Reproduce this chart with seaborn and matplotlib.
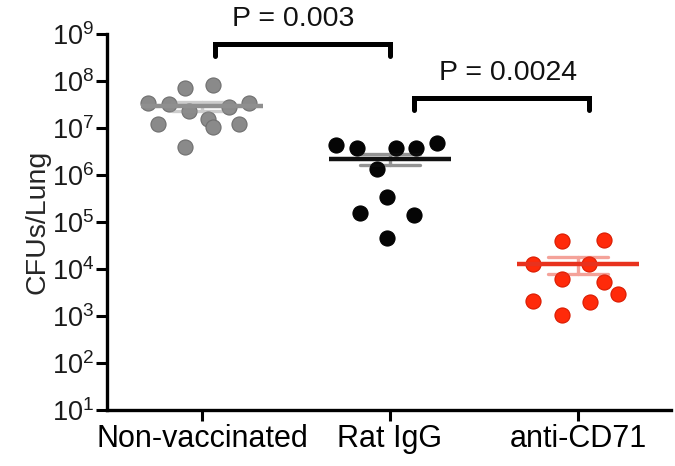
import numpy as np
import pandas as pd
import matplotlib
matplotlib.use("Agg")
import matplotlib.pyplot as plt
import seaborn as sns

# ---------------- data ----------------
groups = ["Non-vaccinated", "Rat IgG", "anti-CD71"]

nonvac_cfu = [3.4e7, 3.2e7, 7.1e7, 8.1e7, 2.3e7, 1.55e7, 1.05e7, 2.8e7, 3.4e7, 1.2e7, 1.2e7, 4.0e6]
ratigg_cfu = [4.4e6, 3.7e6, 1.35e6, 3.7e6, 3.7e6, 4.8e6, 3.4e5, 1.55e5, 1.4e5, 4.6e4]
cd71_cfu = [4.0e4, 4.2e4, 1.3e4, 1.3e4, 6.2e3, 5.2e3, 3.0e3, 2.1e3, 2.0e3, 1.05e3]

# horizontal scatter offsets within each column (column-scatter layout)
nonvac_dx = [-0.287, -0.176, -0.09, 0.059, -0.069, 0.032, 0.059, 0.144, 0.25, -0.234, 0.197, -0.09]
ratigg_dx = [-0.287, -0.176, -0.069, 0.032, 0.138, 0.25, -0.016, -0.16, 0.128, -0.016]
cd71_dx = [-0.085, 0.138, -0.239, 0.059, -0.085, 0.138, 0.213, -0.239, 0.064, -0.085]

p_labels = ["P = 0.003", "P = 0.0024"]
y_ticks = [1e1, 1e2, 1e3, 1e4, 1e5, 1e6, 1e7, 1e8, 1e9]
y_label = "CFUs/Lung"

# ---------------- style ----------------
sns.set_theme(style="ticks")
plt.rcParams["font.family"] = ["Liberation Sans", "DejaVu Sans"]
plt.rcParams["mathtext.default"] = "regular"

dot_colors = ["#8a8a8a", "#050505", "#ff2a0a"]
edge_colors = ["#6f6f6f", "#000000", "#d81a00"]
mean_colors = ["#8f8f8f", "#111111", "#e8321e"]

fig = plt.figure(figsize=(6.75, 4.66), dpi=100)
ax = fig.add_axes([0.1585, 0.1202, 0.994 - 0.1585, 0.927 - 0.1202])

df = pd.DataFrame({
    "group": np.repeat(groups, [len(nonvac_cfu), len(ratigg_cfu), len(cd71_cfu)]),
    "cfu": nonvac_cfu + ratigg_cfu + cd71_cfu,
})

# mean +/- SEM (computed on linear values, before log scaling)
sns.pointplot(data=df, x="group", y="cfu", hue="group", order=groups, hue_order=groups,
              palette=mean_colors, estimator="mean", errorbar="se", capsize=0.32,
              linestyle="none", marker="_", markersize=88, markeredgewidth=3.2,
              err_kws={"linewidth": 2.4, "alpha": 0.45}, legend=False, ax=ax, zorder=3)

all_dx = [nonvac_dx, ratigg_dx, cd71_dx]
all_cfu = [nonvac_cfu, ratigg_cfu, cd71_cfu]
for i, (dx, vals) in enumerate(zip(all_dx, all_cfu)):
    sns.scatterplot(x=np.array(dx) + i, y=vals, color=dot_colors[i], edgecolor=edge_colors[i],
                    linewidth=0.8, s=118, ax=ax, zorder=2, legend=False)

ax.set_yscale("log")
ax.set_ylim(1e1, 1e9)
ax.set_xlim(-0.505, 2.495)
ax.set_yticks(y_ticks)
ax.yaxis.set_minor_locator(matplotlib.ticker.NullLocator())
ax.set_xticks(range(len(groups)))
ax.set_xticklabels(groups, fontsize=22)
ax.tick_params(axis="y", labelsize=19.5, length=8, width=2.2, pad=1, colors="black")
ax.tick_params(axis="x", length=8, width=2.2, pad=2, colors="black")
for lbl in ax.get_yticklabels():
    lbl.set_color("#1a1a1a")
ax.set_xlabel("")
ax.set_ylabel(y_label, fontsize=20.5, labelpad=1)
sns.despine(ax=ax)
for side in ["left", "bottom"]:
    ax.spines[side].set_linewidth(2.4)
    ax.spines[side].set_color("black")

# significance brackets
brackets = [(0.07, 1.0, 10**8.79, 10**8.53), (1.13, 2.06, 10**7.64, 10**7.38)]
text_pos = [(0.484, 10**9.32), (1.63, 10**8.17)]
for (x0, x1, ytop, ybot), lab, (tx, ty) in zip(brackets, p_labels, text_pos):
    ax.plot([x0, x0, x1, x1], [ybot, ytop, ytop, ybot], color="black", lw=3.6,
            solid_joinstyle="miter", clip_on=False, zorder=4)
    ax.text(tx, ty, lab, ha="center", va="center", fontsize=20.5, color="#111111", clip_on=False)

fig.savefig("out.png", dpi=100)
